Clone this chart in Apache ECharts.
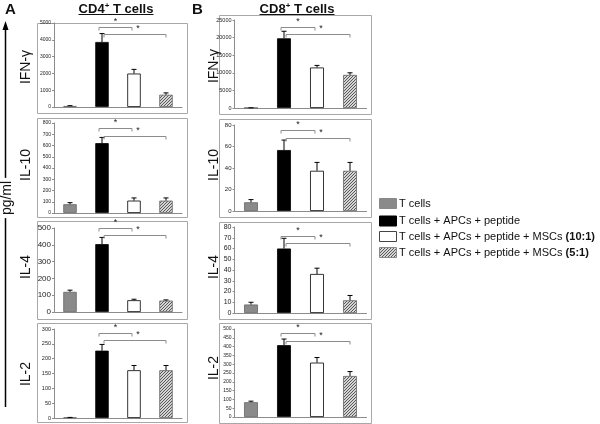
<!DOCTYPE html>
<html><head><meta charset="utf-8">
<script src="https://cdn.jsdelivr.net/npm/echarts@6/dist/echarts.min.js"></script>
<style>html,body{margin:0;padding:0;background:#fff}#c{width:600px;height:424px}</style>
</head><body><div id="c"></div>
<script>
// ---- data ----
const categories = ['T cells', 'T cells + APCs + peptide', 'T cells + APCs + peptide + MSCs (10:1)', 'T cells + APCs + peptide + MSCs (5:1)'];
const rowLabels = ['IFN-γ', 'IL-10', 'IL-4', 'IL-2'];
const columnTitles = ['CD4', 'CD8'];

const cd4IfnValues = [60, 3870, 1990, 730];
const cd4IfnErrors = [20, 500, 250, 110];
const cd4IfnBrackets = [4760, 4350];
const cd4IfnTicks = [0, 1000, 2000, 3000, 4000, 5000];

const cd4Il10Values = [78, 621, 110, 110];
const cd4Il10Errors = [14, 51, 24, 24];
const cd4Il10Brackets = [753, 684];
const cd4Il10Ticks = [0, 100, 200, 300, 400, 500, 600, 700, 800];

const cd4Il4Values = [120, 404, 70, 68];
const cd4Il4Errors = [10, 40, 6, 4];
const cd4Il4Brackets = [500, 458];
const cd4Il4Ticks = [0, 100, 200, 300, 400, 500];

const cd4Il2Values = [2, 227, 161, 161];
const cd4Il2Errors = [0, 21, 16, 16];
const cd4Il2Brackets = [287, 263];
const cd4Il2Ticks = [0, 50, 100, 150, 200, 250, 300];

const cd8IfnValues = [60, 19800, 11500, 9400];
const cd8IfnErrors = [0, 2000, 600, 600];
const cd8IfnBrackets = [22900, 20900];
const cd8IfnTicks = [0, 5000, 10000, 15000, 20000, 25000];

const cd8Il10Values = [8.1, 56.7, 37.4, 37.4];
const cd8Il10Errors = [2.5, 9.3, 7.8, 7.8];
const cd8Il10Brackets = [75.3, 67.6];
const cd8Il10Ticks = [0, 20, 40, 60, 80];

const cd8Il4Values = [7.9, 60, 36.3, 11.8];
const cd8Il4Errors = [2.1, 9.5, 5.4, 4.5];
const cd8Il4Brackets = [72, 65];
const cd8Il4Ticks = [0, 10, 20, 30, 40, 50, 60, 70, 80];

const cd8Il2Values = [84, 408, 309, 233];
const cd8Il2Errors = [6, 35, 29, 25];
const cd8Il2Brackets = [475, 433];
const cd8Il2Ticks = [0, 50, 100, 150, 200, 250, 300, 350, 400, 450, 500];

// ---- styling / layout ----
function hatchCanvas() {
  const c = document.createElement('canvas'); c.width = 3; c.height = 3;
  const g = c.getContext('2d');
  g.fillStyle = '#d4d4d4'; g.fillRect(0, 0, 3, 3);
  g.fillStyle = '#5a5a5a';
  g.fillRect(0, 2, 1, 1); g.fillRect(1, 1, 1, 1); g.fillRect(2, 0, 1, 1);
  return c;
}
const hatch = { image: hatchCanvas(), repeat: 'repeat' };
const barStyles = [
  { color: '#8a8a8a', borderColor: '#666', borderWidth: 0.8 },
  { color: '#000000', borderColor: '#000', borderWidth: 0.8 },
  { color: '#ffffff', borderColor: '#000', borderWidth: 0.8 },
  { color: hatch, borderColor: '#666', borderWidth: 0.8 }
];
const FONT = '"Liberation Sans", Arial, sans-serif';

const panels = [
  { col: 0, row: 0, values: cd4IfnValues, errors: cd4IfnErrors, brackets: cd4IfnBrackets, ticks: cd4IfnTicks },
  { col: 0, row: 1, values: cd4Il10Values, errors: cd4Il10Errors, brackets: cd4Il10Brackets, ticks: cd4Il10Ticks },
  { col: 0, row: 2, values: cd4Il4Values, errors: cd4Il4Errors, brackets: cd4Il4Brackets, ticks: cd4Il4Ticks },
  { col: 0, row: 3, values: cd4Il2Values, errors: cd4Il2Errors, brackets: cd4Il2Brackets, ticks: cd4Il2Ticks },
  { col: 1, row: 0, values: cd8IfnValues, errors: cd8IfnErrors, brackets: cd8IfnBrackets, ticks: cd8IfnTicks },
  { col: 1, row: 1, values: cd8Il10Values, errors: cd8Il10Errors, brackets: cd8Il10Brackets, ticks: cd8Il10Ticks },
  { col: 1, row: 2, values: cd8Il4Values, errors: cd8Il4Errors, brackets: cd8Il4Brackets, ticks: cd8Il4Ticks },
  { col: 1, row: 3, values: cd8Il2Values, errors: cd8Il2Errors, brackets: cd8Il2Brackets, ticks: cd8Il2Ticks }
];
// layout: plot areas, panel boxes
const plotLeft = [54, 234.5], plotWidth = [128, 132];
const plotTop = [[23, 123, 228, 329], [20, 125, 227, 329]];
const plotHeight = [[84, 90, 84, 89], [88, 86, 86, 88]];
const boxX = [[37, 187], [219, 371]];
const boxY = [[[23, 113], [118, 217], [221, 319], [323, 422]], [[15, 114], [119, 217], [222, 319], [323, 423]]];
const labelSize = [[5, 5, 8, 5.5], [5.5, 6, 7, 5]];
const rowLabelX = [26, 214];
const rowLabelY = [[67, 165, 267, 374], [66, 165, 267, 368]];

const grid = [], xAxis = [], yAxis = [], series = [], graphic = [];
panels.forEach((p, i) => {
  grid.push({ left: plotLeft[p.col], top: plotTop[p.col][p.row], width: plotWidth[p.col], height: plotHeight[p.col][p.row] });
  xAxis.push({ type: 'category', gridIndex: i, data: categories, axisLabel: { show: false }, axisTick: { show: false },
    axisLine: { lineStyle: { color: '#8c8c8c', width: 1 } } });
  yAxis.push({ type: 'value', gridIndex: i, min: 0, max: p.ticks[p.ticks.length - 1], interval: p.ticks[1] - p.ticks[0],
    splitLine: { show: false },
    axisLine: { show: true, lineStyle: { color: '#8c8c8c', width: 1 } },
    axisTick: { show: true, length: 2, lineStyle: { color: '#8c8c8c' } },
    axisLabel: { fontSize: labelSize[p.col][p.row], color: '#222', margin: 3, fontFamily: FONT, formatter: v => String(v) } });
  series.push({ type: 'bar', xAxisIndex: i, yAxisIndex: i, barWidth: '42%', animation: false,
    data: p.values.map((v, k) => ({ value: v, itemStyle: barStyles[k] })) });
  series.push({ type: 'custom', xAxisIndex: i, yAxisIndex: i, animation: false, clip: false, z: 5,
    encode: { x: 0, y: [1, 2] },
    data: p.values.map((v, k) => [k, v, v + p.errors[k]]),
    renderItem: (params, api) => {
      const a = api.coord([api.value(0), api.value(1)]);
      const b = api.coord([api.value(0), api.value(2)]);
      return { type: 'group', children: [
        { type: 'line', shape: { x1: a[0], y1: a[1], x2: b[0], y2: b[1] }, style: { stroke: '#000', lineWidth: 1 } },
        { type: 'line', shape: { x1: b[0] - 2.5, y1: b[1], x2: b[0] + 2.5, y2: b[1] }, style: { stroke: '#000', lineWidth: 1 } }
      ] };
    } });
  series.push({ type: 'custom', xAxisIndex: i, yAxisIndex: i, animation: false, clip: false, z: 6,
    encode: { x: [0, 1], y: 2 },
    data: [[1, 2, p.brackets[0]], [1, 3, p.brackets[1]]],
    renderItem: (params, api) => {
      const first = params.dataIndex === 0;
      const a = api.coord([api.value(0), api.value(2)]);
      const b = api.coord([api.value(1), api.value(2)]);
      const x1 = a[0] + (first ? -3 : 2), x2 = b[0] + (first ? -2 : 0), y = Math.round(a[1]) + 0.5;
      return { type: 'group', children: [
        { type: 'polyline', shape: { points: [[x1, y + 3], [x1, y], [x2, y], [x2, y + 3]] }, style: { stroke: '#8c8c8c', lineWidth: 1, fill: null } },
        { type: 'text', x: (x1 + x2) / 2 + (first ? 0 : 3), y: y - 1, style: { text: '*', fontSize: 9, fill: '#222', align: 'center', verticalAlign: 'bottom', fontFamily: FONT } }
      ] };
    } });
  const bx = boxX[p.col], by = boxY[p.col][p.row];
  graphic.push({ type: 'rect', shape: { x: bx[0] + 0.5, y: by[0] + 0.5, width: bx[1] - bx[0], height: by[1] - by[0] },
    style: { fill: null, stroke: '#a8a8a8', lineWidth: 1 }, z: -1 });
  graphic.push({ type: 'text', x: rowLabelX[p.col], y: rowLabelY[p.col][p.row], rotation: Math.PI / 2,
    style: { text: rowLabels[p.row], fontSize: 14, fill: '#111', align: 'center', verticalAlign: 'middle', fontFamily: FONT } });
});

// panel letters and column titles
const titleX = [116, 297];
['A', 'B'].forEach((t, c) => {
  graphic.push({ type: 'text', x: c === 0 ? 5 : 192, y: 2, style: { text: t, fontSize: 15, fontWeight: 'bold', fill: '#111', fontFamily: FONT } });
  graphic.push({ type: 'text', x: titleX[c], y: 9, style: {
    text: '{m|' + columnTitles[c] + '}{s|+}{m| T cells}', align: 'center', verticalAlign: 'middle',
    rich: { m: { fontSize: 13, fontWeight: 'bold', fill: '#111', fontFamily: FONT },
            s: { fontSize: 8, fontWeight: 'bold', fill: '#111', fontFamily: FONT, verticalAlign: 'top', padding: [0, 0, 6, 0] } } } });
  graphic.push({ type: 'line', shape: { x1: titleX[c] - 37.5, y1: 14.5, x2: titleX[c] + 37.5, y2: 14.5 }, style: { stroke: '#111', lineWidth: 1 } });
});

// pg/ml arrow
graphic.push({ type: 'line', shape: { x1: 5.5, y1: 28, x2: 5.5, y2: 407 }, style: { stroke: '#000', lineWidth: 1.5 } });
graphic.push({ type: 'polygon', shape: { points: [[5.5, 21], [2.5, 30], [8.5, 30]] }, style: { fill: '#000' } });
graphic.push({ type: 'text', x: 7, y: 198, rotation: Math.PI / 2, z: 10,
  style: { text: 'pg/ml', fontSize: 14, fill: '#111', align: 'center', verticalAlign: 'middle', fontFamily: FONT,
    backgroundColor: '#fff', padding: [0, 3, 0, 3] } });

// legend
const legendY = [198, 215.5, 231, 247];
categories.forEach((name, k) => {
  const st = barStyles[k];
  graphic.push({ type: 'rect', shape: { x: 379.5, y: legendY[k] + 0.5, width: 17, height: 10 },
    style: { fill: st.color, stroke: k === 2 ? '#444' : (k === 1 ? '#000' : '#8a8a8a'), lineWidth: 1 } });
  const m = name.match(/^(.*?)(\s\(\d+:\d+\))?$/);
  const txt = m[2] ? '{n|' + m[1] + ' }{b|' + m[2].trim() + '}' : '{n|' + m[1] + '}';
  graphic.push({ type: 'text', x: 399, y: legendY[k] + 5.5, style: { text: txt, verticalAlign: 'middle',
    rich: { n: { fontSize: 11, fill: '#111', fontFamily: FONT }, b: { fontSize: 11, fontWeight: 'bold', fill: '#111', fontFamily: FONT } } } });
});

const chart = echarts.init(document.getElementById('c'), null, { renderer: 'canvas' });
chart.setOption({ animation: false, backgroundColor: '#fff', grid, xAxis, yAxis, series, graphic });
</script></body></html>
